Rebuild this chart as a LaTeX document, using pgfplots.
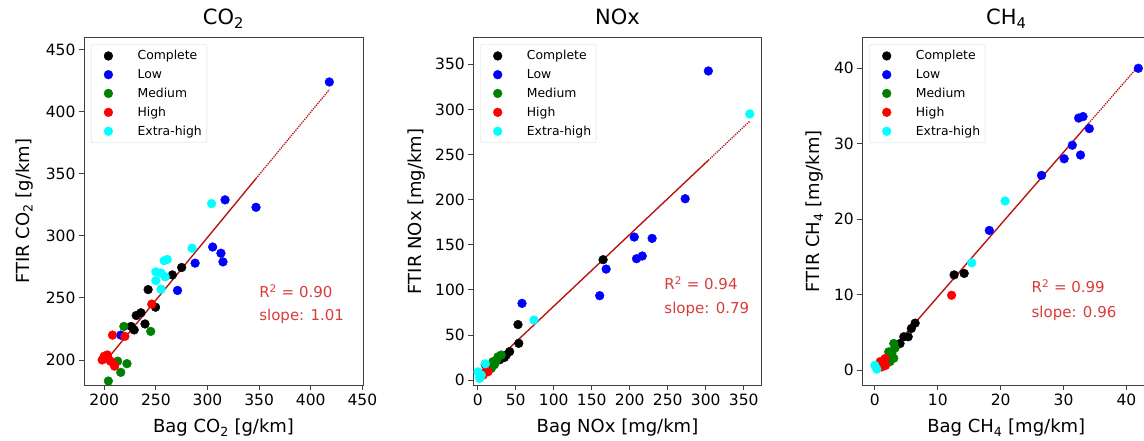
\documentclass[border=0pt]{standalone}
\usepackage{fontspec}
\setmainfont{DejaVu Sans}
\usepackage{pgfplots}
\pgfplotsset{compat=1.18}
\definecolor{regline}{RGB}{185,20,20}
\definecolor{anno}{RGB}{215,60,60}
\definecolor{mgreen}{RGB}{0,128,0}
\definecolor{mcyan}{RGB}{0,255,255}
\pgfplotsset{
 panel/.style={
  scale only axis, height=347.3pt, anchor=south west,
  axis line style={black!75, line width=0.8pt},
  every tick/.style={black!75, line width=0.8pt},
  tick align=outside, major tick length=5pt, tick pos=left,
  ticklabel style={font=\fontsize{15.5}{18}\selectfont},
  /pgf/number format/assume math mode=true,
  label style={font=\fontsize{18}{22}\selectfont},
  title style={font=\fontsize{21}{25}\selectfont, at={(axis description cs:0.5,1)}, anchor=base, yshift=7pt},
  xlabel style={at={(axis description cs:0.5,-0.138)}, anchor=base},
  legend style={at={(axis description cs:0,1)}, anchor=north west, xshift=7pt, yshift=-6.6pt,
    draw=black!15, rounded corners=2pt, font=\fontsize{12.4}{14}\selectfont, row sep=4pt, inner ysep=4pt},
  legend cell align=left,
  legend image code/.code={\path (0pt,0pt) (41pt,0pt); \draw[##1] plot coordinates {(14pt,0pt)};},
 },
 sc/.style={only marks, mark=*, mark size=4.4pt, color=#1, mark options={fill=#1, draw=#1}},
 fit/.style={regline, line width=1.4pt, no marks},
 fitdot/.style={regline, line width=1.3pt, densely dotted, no marks},
}
\begin{document}
\begin{tikzpicture}
\path[use as bounding box] (0pt,0pt) rectangle (1144pt,441pt);
% ---------------- CO2 ----------------
\begin{axis}[panel, at={(84pt,56pt)}, width=279pt,
  xmin=180.4, xmax=450.6, ymin=179.8, ymax=459.7,
  xtick={200,250,...,450}, ytick={200,250,...,450},
  title={CO\textsubscript{2}},
  xlabel={Bag CO\textsubscript{2} [g/km]},
  ylabel={FTIR CO\textsubscript{2} [g/km]},
  ylabel style={at={(axis description cs:-0.196,0.5)}, anchor=base},
]
\addplot[sc=black] coordinates {(275,274.5)(266,268.5)(242.5,256.7)(249.7,242.5)(235.5,238)(231,235.8)(239.5,229)(229,224.2)(226,227)};
\addplot[sc=blue] coordinates {(418,424)(317,329)(347,323)(305,291)(313,286)(315,279)(288,278)(271,256)(216,220)};
\addplot[sc=mgreen] coordinates {(219,227)(245,223)(222,197)(213,199)(216,190)(204,183)};
\addplot[sc=red] coordinates {(208,220)(220,219)(246,245)(200,203)(203,204)(206,199)(209,197)(198,200)(204,201)(210,195)};
\addplot[sc=mcyan] coordinates {(304,326)(285,290)(258,280)(261,281)(250,271)(255,270)(259,267)(250,264)(255,257)};
\legend{Complete,Low,Medium,High,Extra-high}
\addplot[fit] coordinates {(200,197.7)(347,346.2)};
\addplot[fitdot] coordinates {(347,346.2)(418,417.9)};
\node[anchor=base west, inner sep=0pt, text=anno, font=\fontsize{15}{18}\selectfont] at (axis cs:350,250.2) {R\textsuperscript{2} = 0.90};
\node[anchor=base west, inner sep=0pt, text=anno, font=\fontsize{15}{18}\selectfont] at (axis cs:350,231.7) {slope: 1.01};
\end{axis}
% ---------------- NOx ----------------
\begin{axis}[panel, at={(473.3pt,56pt)}, width=288.4pt,
  xmin=-5.8, xmax=373.7, ymin=-5.5, ymax=379.5,
  xtick={0,50,...,350}, ytick={0,50,...,350},
  title={NOx},
  xlabel={Bag NOx [mg/km]},
  ylabel={FTIR NOx [mg/km]},
  ylabel style={at={(axis description cs:-0.179,0.5)}, anchor=base},
]
\addplot[sc=black] coordinates {(165,133.4)(53,61.5)(54,40.7)(42,31.5)(37.5,27.5)(29,22.5)(35,25)(10,17)};
\addplot[sc=blue] coordinates {(303.5,342.6)(273,201)(206,158.5)(229.5,157)(216.5,137.5)(209,134.5)(169,123)(160.5,93.5)(58.3,85)};
\addplot[sc=mgreen] coordinates {(26.7,25.8)(31,27.7)(20,20.3)(18,13)(22,17)(25,22)};
\addplot[sc=red] coordinates {(13.6,9.2)(7,5.5)(11.8,11)(9,8)};
\addplot[sc=mcyan] coordinates {(358,295)(74,66.5)(4.7,5.5)(2.6,1.8)(0.5,9)(10,18)(3,3.7)};
\legend{Complete,Low,Medium,High,Extra-high}
\addplot[fit] coordinates {(1.8,3.7)(303.5,243.6)};
\addplot[fitdot] coordinates {(303.5,243.6)(358,287)};
\node[anchor=base west, inner sep=0pt, text=anno, font=\fontsize{15}{18}\selectfont] at (axis cs:245.5,100.5) {R\textsuperscript{2} = 0.94};
\node[anchor=base west, inner sep=0pt, text=anno, font=\fontsize{15}{18}\selectfont] at (axis cs:245.5,73.9) {slope: 0.79};
\end{axis}
% ---------------- CH4 ----------------
\begin{axis}[panel, at={(862.3pt,56pt)}, width=288pt,
  xmin=-2.0, xmax=43.8, ymin=-2.0, ymax=44.06,
  xtick={0,10,...,40}, ytick={0,10,...,40},
  title={CH\textsubscript{4}},
  xlabel={Bag CH\textsubscript{4} [mg/km]},
  ylabel={FTIR CH\textsubscript{4} [mg/km]},
  ylabel style={at={(axis description cs:-0.147,0.5)}, anchor=base},
]
\addplot[sc=black] coordinates {(12.6,12.6)(14.2,12.8)(6.4,6.2)(5.8,5.5)(5.3,4.4)(4.6,4.4)(4,3.5)(3.4,3.3)};
\addplot[sc=blue] coordinates {(41.9,40)(32.4,33.4)(33.1,33.6)(34.1,32)(31.4,29.8)(30.1,28)(32.7,28.5)(26.5,25.8)(18.2,18.5)};
\addplot[sc=mgreen] coordinates {(3,3.5)(2.2,2.4)(2.7,2.2)(3,1.55)(2.4,1.1)(3.2,2.9)};
\addplot[sc=red] coordinates {(12.2,9.9)(0.85,1.1)(1.4,0.9)(1.1,0.4)(1.6,1.5)(1.7,0.6)};
\addplot[sc=mcyan] coordinates {(20.7,22.4)(15.4,14.2)(0,0.6)(0.3,0.1)};
\legend{Complete,Low,Medium,High,Extra-high}
\addplot[fit] coordinates {(0.37,0.46)(34,32.7)};
\addplot[fitdot] coordinates {(34,32.7)(41.6,40.0)};
\node[anchor=base west, inner sep=0pt, text=anno, font=\fontsize{15}{18}\selectfont] at (axis cs:24.9,10.25) {R\textsuperscript{2} = 0.99};
\node[anchor=base west, inner sep=0pt, text=anno, font=\fontsize{15}{18}\selectfont] at (axis cs:24.9,6.99) {slope: 0.96};
\end{axis}
\end{tikzpicture}
\end{document}
